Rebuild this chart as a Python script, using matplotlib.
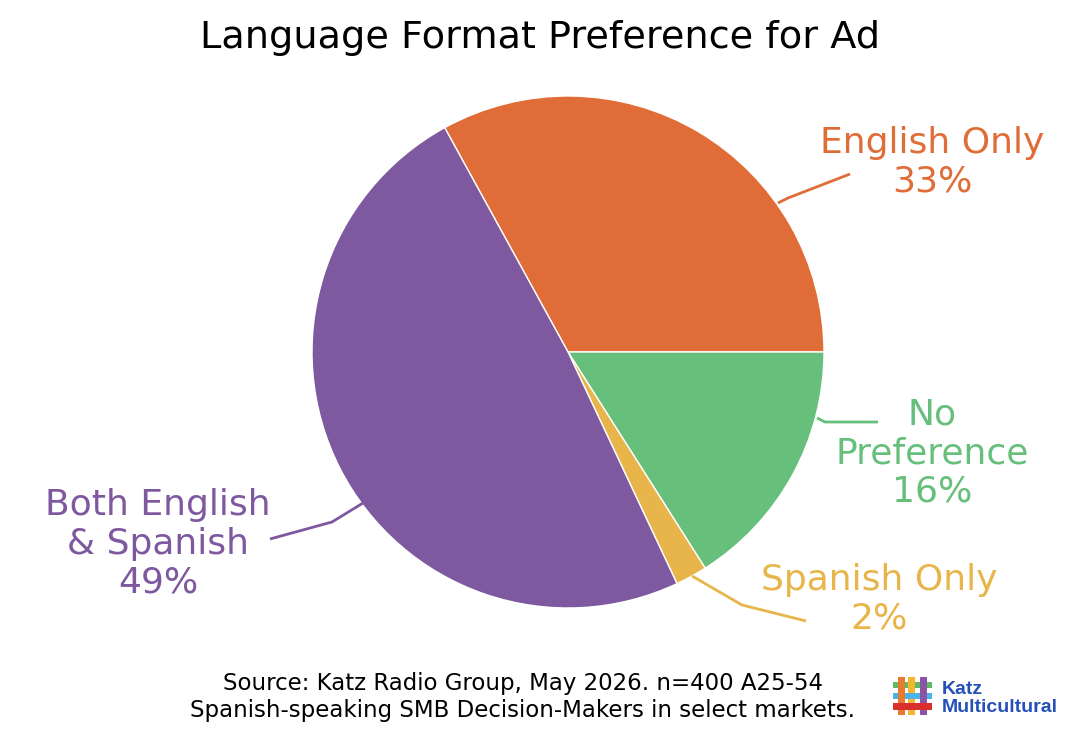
import matplotlib
matplotlib.use("Agg")
import matplotlib.pyplot as plt
from matplotlib.patches import Rectangle

categories = ["English Only", "No Preference", "Spanish Only", "Both English & Spanish"]
values = [33, 16, 2, 49]
labels = ["English Only\n33%", "No\nPreference\n16%", "Spanish Only\n2%", "Both English\n& Spanish\n49%"]
colors = ["#E06C37", "#66BF7B", "#E8B54A", "#7E59A0"]

title = "Language Format Preference for Ad"
source = "Source: Katz Radio Group, May 2026. n=400 A25-54\nSpanish-speaking SMB Decision-Makers in select markets."

FONT = "DejaVu Sans"
W, H = 1080, 732
fig = plt.figure(figsize=(W / 100, H / 100), dpi=100)
ax = fig.add_axes([0, 0, 1, 1])

def Y(y):
    return H - y

cx, cy, r = 568, 352, 256
wedges, _ = ax.pie(values, colors=colors, startangle=118.8, counterclock=False,
                   center=(cx, Y(cy)), radius=r, frame=True,
                   wedgeprops=dict(edgecolor="white", linewidth=1))
ax.set_xlim(0, W)
ax.set_ylim(0, H)
ax.set_aspect("auto")
ax.axis("off")

# label positions (pixel coords, center of text block) and leader lines
label_pos = [(932, 162), (932, 453), (879, 599), (158, 544)]
leaders = [
    [(778, 203), (788, 198), (850, 174)],
    [(817, 418), (825, 422), (878, 422)],
    [(692, 576), (742, 605), (806, 621)],
    [(363, 503), (332, 522), (270, 539)],
]
for lab, (x, y), pts, c in zip(labels, label_pos, leaders, colors):
    ax.text(x, Y(y), lab, ha="center", va="center", fontsize=26, color=c,
            family=FONT, linespacing=1.18)
    ax.plot([p[0] for p in pts], [Y(p[1]) for p in pts], color=c, lw=2,
            solid_capstyle="butt")

ax.text(540, Y(38), title, ha="center", va="center", fontsize=27.5, family=FONT,
        color="black")
ax.text(523, Y(697), source, ha="center", va="center", fontsize=16.5,
        family=FONT, color="black", linespacing=1.2)

# logo
def rect(x0, y0, x1, y1, c):
    ax.add_patch(Rectangle((x0, Y(y1)), x1 - x0, y1 - y0, color=c, lw=0))

rect(893, 682, 932, 688, "#5DBB63")
rect(893, 693, 932, 699, "#4DB3E6")
rect(898, 677, 905, 715, "#E8792E")
rect(908, 677, 915, 715, "#F2B632")
rect(920, 677, 927, 715, "#8A55A6")
rect(893, 703, 932, 710, "#D9302E")
rect(908, 693, 915, 699, "#4DB3E6")
ax.text(942, Y(690), "Katz", ha="left", va="center", fontsize=14,
        fontweight="bold", family="Liberation Sans", color="#2450B8")
ax.text(942, Y(708), "Multicultural", ha="left", va="center", fontsize=14,
        fontweight="bold", family="Liberation Sans", color="#2450B8")

fig.savefig("out.png", dpi=100)
